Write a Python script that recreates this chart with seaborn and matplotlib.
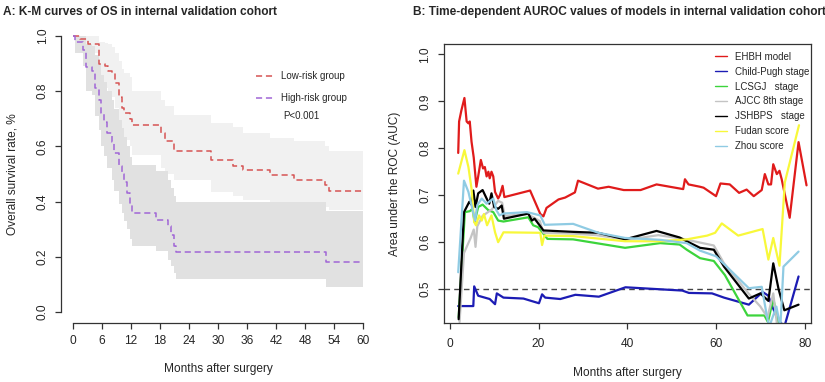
import numpy as np
import pandas as pd
import matplotlib
matplotlib.use('Agg')
import matplotlib.pyplot as plt
from matplotlib.lines import Line2D
import seaborn as sns

# K-M curves, internal validation cohort
low_t = [0, 1.4, 3.2, 5.4, 6.6, 7.3, 8.0, 8.7, 9.5, 10.1, 10.6, 11.8, 12.3, 18.3, 19.0, 20.8,
         28.5, 33.2, 35.1, 40.8, 45.7, 52.1, 53.0, 60]
low_s = [1.0, 0.988, 0.973, 0.90, 0.89, 0.875, 0.865, 0.83, 0.78, 0.74, 0.72, 0.70, 0.678, 0.648,
         0.618, 0.585, 0.55, 0.53, 0.515, 0.495, 0.478, 0.46, 0.44, 0.44]
low_upper = [1.0, 1.0, 1.0, 0.98, 0.975, 0.97, 0.96, 0.94, 0.91, 0.88, 0.865, 0.85, 0.80, 0.77,
             0.745, 0.714, 0.684, 0.67, 0.648, 0.63, 0.618, 0.60, 0.585, 0.585]
low_lower = [1.0, 0.96, 0.94, 0.83, 0.81, 0.795, 0.78, 0.74, 0.69, 0.65, 0.625, 0.60, 0.569, 0.52,
             0.50, 0.478, 0.435, 0.42, 0.405, 0.40, 0.39, 0.38, 0.37, 0.37]

high_t = [0, 0.4, 2.0, 2.7, 3.9, 4.6, 5.4, 5.9, 6.4, 7.0, 8.0, 8.5, 9.5, 10.1, 10.6, 11.1, 11.7,
          12.3, 17.1, 19.6, 20.2, 20.8, 21.4, 52.3, 60]
high_s = [1.0, 0.98, 0.95, 0.887, 0.875, 0.813, 0.77, 0.72, 0.69, 0.648, 0.615, 0.575, 0.53, 0.50,
          0.47, 0.43, 0.39, 0.36, 0.335, 0.31, 0.28, 0.24, 0.216, 0.18, 0.18]
high_upper = [1.0, 1.0, 1.0, 0.97, 0.965, 0.93, 0.90, 0.86, 0.835, 0.80, 0.77, 0.735, 0.695, 0.665,
              0.635, 0.60, 0.56, 0.533, 0.51, 0.48, 0.45, 0.42, 0.40, 0.365, 0.365]
high_lower = [1.0, 0.94, 0.89, 0.80, 0.785, 0.71, 0.66, 0.60, 0.565, 0.52, 0.48, 0.44, 0.39, 0.36,
              0.33, 0.30, 0.265, 0.24, 0.22, 0.19, 0.165, 0.14, 0.12, 0.09, 0.09]

km_ticks = [0, 6, 12, 18, 24, 30, 36, 42, 48, 54, 60]

# time-dependent AUROC values
ehbh_m = [1.9, 2.1, 2.6, 3.3, 3.8, 4.2, 4.5, 4.9, 5.4, 6.0, 6.4, 7.0, 7.5, 7.9, 8.3, 8.7, 9.0, 9.4,
          9.8, 10.2, 10.9, 11.3, 11.9, 12.3, 18.1, 20.4, 21.1, 21.8, 24.5, 26.0, 28.2, 28.9, 33.4,
          35.8, 39.2, 43.0, 46.6, 52.6, 53.0, 53.8, 56.4, 57.2, 60.0, 61.0, 63.1, 65.2, 66.9, 68.5,
          70.3, 71.0, 71.8, 72.4, 72.9, 73.7, 74.3, 74.8, 76.6, 78.6, 80.4]
ehbh_v = [0.79, 0.857, 0.88, 0.907, 0.857, 0.853, 0.857, 0.814, 0.78, 0.718, 0.74, 0.775, 0.757,
          0.76, 0.74, 0.75, 0.736, 0.75, 0.74, 0.707, 0.693, 0.70, 0.72, 0.696, 0.71, 0.66, 0.655,
          0.673, 0.691, 0.695, 0.706, 0.731, 0.714, 0.718, 0.711, 0.711, 0.723, 0.713, 0.734, 0.723,
          0.718, 0.716, 0.698, 0.725, 0.723, 0.705, 0.712, 0.698, 0.711, 0.745, 0.723, 0.723, 0.766,
          0.745, 0.752, 0.734, 0.652, 0.813, 0.721]

cp_m = [1.9, 5.3, 5.5, 6.4, 9.0, 10.2, 10.6, 12.1, 16.6, 20.1, 20.8, 21.5, 24.9, 28.3, 33.6, 39.6,
        52.4, 53.9, 59.1, 61.8, 67.4, 70.5, 71.8, 72.6, 73.9, 75.4, 78.6]
cp_v = [0.464, 0.464, 0.506, 0.486, 0.479, 0.468, 0.491, 0.482, 0.48, 0.47, 0.489, 0.482, 0.479,
        0.488, 0.484, 0.504, 0.497, 0.492, 0.491, 0.482, 0.467, 0.494, 0.486, 0.465, 0.436, 0.42,
        0.527]

lc_m = [2.0, 3.4, 4.5, 5.1, 5.6, 6.4, 7.4, 8.7, 9.8, 10.9, 12.1, 17.7, 18.8, 19.9, 21.1, 22.0,
        27.8, 39.5, 47.4, 51.8, 53.4, 56.4, 59.5, 62.0, 67.1, 70.9, 71.7, 72.9, 74.4]
lc_v = [0.44, 0.664, 0.666, 0.671, 0.643, 0.675, 0.68, 0.668, 0.664, 0.646, 0.644, 0.653, 0.636,
        0.632, 0.618, 0.607, 0.606, 0.588, 0.598, 0.595, 0.584, 0.566, 0.56, 0.53, 0.444, 0.444,
        0.43, 0.48, 0.41]

aj_m = [2.2, 3.2, 4.7, 5.4, 5.8, 6.2, 7.4, 9.5, 10.9, 11.8, 12.4, 17.5, 20.3, 21.1, 28.0, 33.0,
        40.0, 47.0, 52.0, 56.0, 59.5, 61.8, 67.4, 70.0, 71.6, 72.9, 73.8]
aj_v = [0.43, 0.577, 0.609, 0.627, 0.59, 0.634, 0.656, 0.67, 0.688, 0.684, 0.656, 0.66, 0.645,
        0.62, 0.618, 0.615, 0.605, 0.615, 0.608, 0.60, 0.593, 0.555, 0.49, 0.463, 0.44, 0.491, 0.42]

js_m = [2.0, 3.2, 4.4, 4.9, 5.3, 5.8, 6.4, 7.4, 8.3, 8.9, 9.4, 10.0, 10.9, 11.7, 12.2, 17.7, 18.5,
        19.1, 19.6, 21.1, 27.8, 33.4, 39.5, 46.6, 51.8, 53.4, 56.4, 59.5, 61.8, 67.4, 70.0, 71.8,
        72.9, 74.1, 75.4, 78.6]
js_v = [0.436, 0.664, 0.686, 0.68, 0.71, 0.675, 0.704, 0.711, 0.693, 0.682, 0.704, 0.675, 0.671,
        0.678, 0.65, 0.661, 0.646, 0.65, 0.644, 0.625, 0.622, 0.62, 0.606, 0.624, 0.61, 0.602,
        0.588, 0.584, 0.548, 0.48, 0.491, 0.475, 0.555, 0.5, 0.455, 0.467]

fd_m = [1.9, 3.3, 4.2, 4.9, 5.5, 5.9, 6.6, 7.2, 7.7, 8.4, 9.4, 10.2, 10.9, 12.1, 20.4, 20.8, 21.3,
        27.8, 39.5, 47.4, 53.4, 58.0, 59.8, 61.3, 65.0, 70.5, 71.8, 72.9, 74.3, 75.5, 78.7]
fd_v = [0.746, 0.796, 0.76, 0.714, 0.643, 0.636, 0.657, 0.646, 0.66, 0.636, 0.657, 0.621, 0.60,
        0.621, 0.62, 0.594, 0.614, 0.613, 0.602, 0.602, 0.606, 0.614, 0.62, 0.64, 0.614, 0.628,
        0.563, 0.609, 0.55, 0.727, 0.849]

zh_m = [1.9, 3.2, 4.2, 5.7, 6.2, 7.2, 8.3, 9.8, 10.5, 11.2, 12.1, 17.4, 20.4, 21.4, 27.8, 33.5,
        39.5, 47.4, 53.4, 56.4, 60.0, 67.4, 70.3, 71.5, 72.0, 73.6, 74.5, 75.2, 78.6]
zh_v = [0.536, 0.731, 0.707, 0.646, 0.679, 0.693, 0.682, 0.693, 0.668, 0.657, 0.661, 0.664, 0.657,
        0.637, 0.639, 0.62, 0.609, 0.605, 0.598, 0.582, 0.57, 0.502, 0.505, 0.441, 0.42, 0.463,
        0.42, 0.548, 0.58]

models = ['EHBH model', 'Child-Pugh stage', 'LCSGJ   stage', 'AJCC 8th stage',
          'JSHBPS   stage', 'Fudan score', 'Zhou score']
model_colors = ['#e01b1b', '#1c1cb4', '#3cd43c', '#c4c4c4', '#000000', '#f8f83a', '#8fcbe3']

auc = pd.concat([
    pd.DataFrame({'month': m, 'auc': v, 'model': name})
    for name, m, v in zip(models,
                          [ehbh_m, cp_m, lc_m, aj_m, js_m, fd_m, zh_m],
                          [ehbh_v, cp_v, lc_v, aj_v, js_v, fd_v, zh_v])
], ignore_index=True)

low_col = '#d65454'
high_col = '#a066d6'

sns.set_theme(style='ticks')
plt.rcParams['font.family'] = ['Liberation Sans', 'DejaVu Sans']
plt.rcParams['axes.linewidth'] = 0.9
plt.rcParams['axes.edgecolor'] = '#333333'

fig = plt.figure(figsize=(8.25, 3.82), dpi=100)
ax1 = fig.add_axes([0.0744, 0.1545, 0.3796, 0.780])
ax2 = fig.add_axes([0.5382, 0.1545, 0.4448, 0.7304])

# --- A: K-M curves
ax1.fill_between(low_t, low_lower, low_upper, step='post', color='#f1f1f1', lw=0)
ax1.fill_between(high_t, high_lower, high_upper, step='post', color='#e1e1e1', lw=0)
sns.lineplot(x=low_t, y=low_s, ax=ax1, drawstyle='steps-post', color=low_col, lw=1.1,
             dashes=False, linestyle=(0, (4, 2.5)), label='Low-risk group', legend=False)
sns.lineplot(x=high_t, y=high_s, ax=ax1, drawstyle='steps-post', color=high_col, lw=1.1,
             dashes=False, linestyle=(0, (4, 2.5)), label='High-risk group', legend=False)

ax1.set_xlim(-2.4, 62.4)
ax1.set_ylim(-0.04, 1.04)
ax1.set_xticks(km_ticks)
ax1.set_yticks([0, 0.2, 0.4, 0.6, 0.8, 1.0])
ax1.set_yticklabels(['0.0', '0.2', '0.4', '0.6', '0.8', '1.0'])
sns.despine(ax=ax1)
ax1.spines['left'].set_bounds(0, 1)
ax1.spines['bottom'].set_bounds(0, 60)
ax1.set_xlabel('Months after surgery', fontsize=8.6, labelpad=11)
ax1.set_ylabel('Overall survival rate, %', fontsize=8.6, labelpad=13)
ax1.legend(handles=ax1.lines[:2], frameon=False, fontsize=7, loc='upper left',
           bbox_to_anchor=(0.62, 0.845), borderaxespad=0, borderpad=0,
           handlelength=1.85, handletextpad=0.8, labelspacing=1.25)
ax1.text(0.707, 0.695, 'P<0.001', transform=ax1.transAxes, fontsize=7, va='center')

# --- B: time-dependent AUROC
ax2.axhline(0.5, color='#444444', lw=1, linestyle=(0, (4, 3)))
sns.lineplot(data=auc, x='month', y='auc', hue='model', hue_order=models,
             palette=dict(zip(models, model_colors)), sort=False, estimator=None,
             lw=1.6, ax=ax2, legend=False)
ax2.set_xlim(-1.3, 81.4)
ax2.set_ylim(0.428, 1.022)
ax2.set_xticks([0, 20, 40, 60, 80])
ax2.set_yticks([0.5, 0.6, 0.7, 0.8, 0.9, 1.0])
ax2.set_yticklabels(['0.5', '0.6', '0.7', '0.8', '0.9', '1.0'])
ax2.set_xlabel('Months after surgery', fontsize=8.6, labelpad=12)
ax2.set_ylabel('Area under the ROC (AUC)', fontsize=8.6, labelpad=13)
handles = [Line2D([], [], color=c, lw=1) for c in model_colors]
ax2.legend(handles, models, frameon=False, fontsize=7, loc='upper left',
           bbox_to_anchor=(0.738, 0.972), borderaxespad=0, borderpad=0,
           handlelength=1.25, handletextpad=0.85, labelspacing=0.5)

for ax in (ax1, ax2):
    ax.tick_params(labelsize=8.6, length=4, width=0.9, color='#333333', pad=5)
    for lab in ax.get_yticklabels():
        lab.set_rotation(90)
        lab.set_va('center')
ax2.tick_params(axis='x', pad=7)

fig.text(0.004, 0.985, 'A: K-M curves of OS in internal validation cohort',
         fontsize=8.6, fontweight='bold', va='top')
fig.text(0.5006, 0.985, 'B: Time-dependent AUROC values of models in internal validation cohort',
         fontsize=8.6, fontweight='bold', va='top')

fig.savefig('out.png', dpi=100)
